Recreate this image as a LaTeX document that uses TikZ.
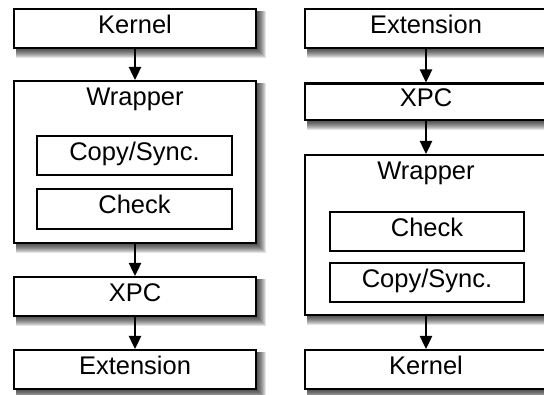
\documentclass[tikz,border=0pt]{standalone}
\usepackage{fontspec}
\setmainfont{Liberation Sans}
\usetikzlibrary{arrows.meta}
\pgfdeclarelayer{bg}
\pgfsetlayers{bg,main}
\newcommand\boxshadow[1]{%
  \foreach \k in {1,...,9}{%
    \fill[black,opacity=0.11] ([shift={(3,3)}]#1.north west) rectangle ([shift={(\k,\k)}]#1.south east);}}
\begin{document}
\begin{tikzpicture}[x=1pt,y=-1pt,
  box/.style={draw, line width=2.4pt, fill=white, inner sep=0pt, text height=18pt, text depth=8pt,
    font=\fontsize{25.5}{30}\selectfont},
  outer/.style={box, minimum width=241.6pt},
  inner/.style={box, minimum width=194.6pt, minimum height=38.6pt},
  wlab/.style={font=\fontsize{25.5}{30}\selectfont, anchor=center},
  arr/.style={line width=2.4pt, -{Triangle[length=13pt,width=12pt]}}]
\useasboundingbox (0,0) rectangle (544,395);
\clip (0,0) rectangle (544,395);
% left column
\node[outer, minimum height=38.6pt] (kl) at (135,28.5) {Kernel};
\node[outer, minimum height=161.6pt, label={[wlab, yshift=-19pt]north:Wrapper}] (wl) at (135,162) {};
\node[inner] (cl) at (134.5,155.5) {Copy/Sync.};
\node[inner, minimum height=39.6pt] (chl) at (134.5,209) {Check};
\node[outer, minimum height=38.6pt] (xl) at (135,296.5) {XPC};
\node[outer, minimum height=38.6pt] (el) at (135,369.5) {Extension};
% right column
\node[outer, minimum height=38.6pt] (er) at (426,28.5) {Extension};
\node[outer, minimum height=36.6pt] (xr) at (426,102) {XPC};
\node[outer, minimum height=159.6pt, label={[wlab, yshift=-19pt]north:Wrapper}] (wr) at (426,235) {};
\node[inner, minimum width=193.6pt] (chr) at (427,231.5) {Check};
\node[inner, minimum width=193.6pt] (cr) at (427,282.5) {Copy/Sync.};
\node[outer, minimum height=38.6pt] (kr) at (426,369.5) {Kernel};
% shadows
\begin{pgfonlayer}{bg}
\boxshadow{kl}\boxshadow{wl}\boxshadow{xl}\boxshadow{el}
\boxshadow{er}\boxshadow{xr}\boxshadow{wr}\boxshadow{kr}
\end{pgfonlayer}
% connectors
\draw[arr] (kl.south) -- (wl.north);
\draw[arr] (wl.south) -- (xl.north);
\draw[arr] (xl.south) -- (el.north);
\draw[arr] (er.south) -- (xr.north);
\draw[arr] (xr.south) -- (wr.north);
\draw[arr] (wr.south) -- (kr.north);
\end{tikzpicture}
\end{document}
